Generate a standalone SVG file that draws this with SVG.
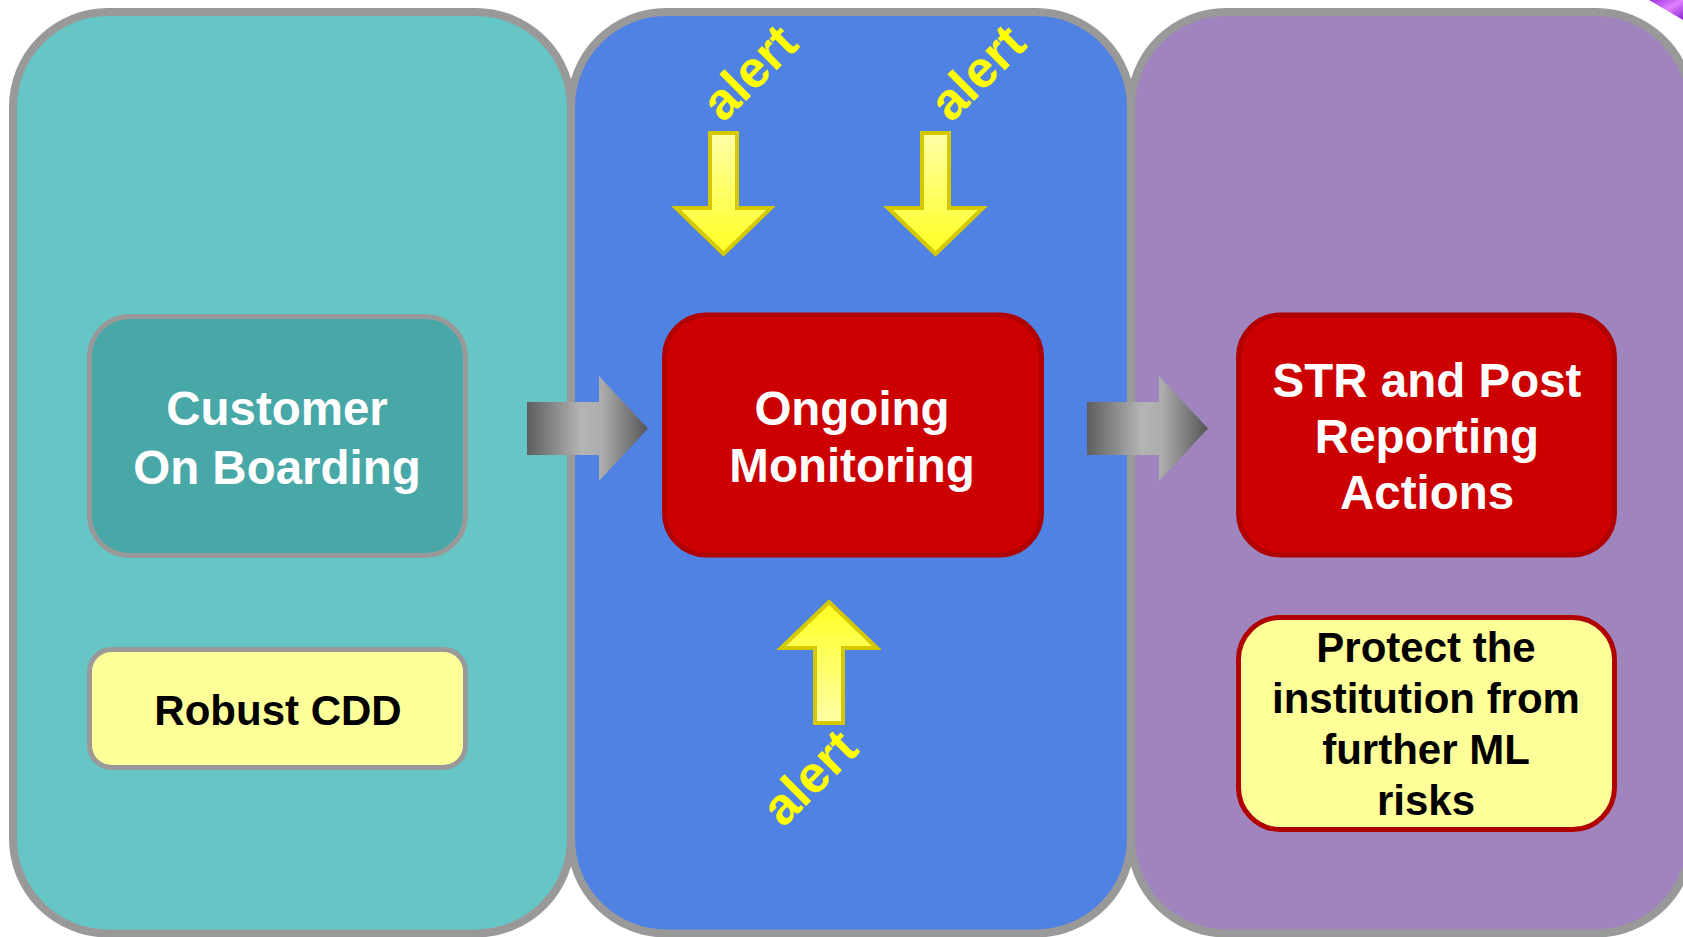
<svg xmlns="http://www.w3.org/2000/svg" width="1683" height="937" viewBox="0 0 1683 937">
  <defs>
    <linearGradient id="grayArrow" x1="0" y1="0" x2="1" y2="0">
      <stop offset="0" stop-color="#5e5e5e"/>
      <stop offset="0.45" stop-color="#b4b4b4"/>
      <stop offset="0.62" stop-color="#acacac"/>
      <stop offset="1" stop-color="#555555"/>
    </linearGradient>
    <linearGradient id="yellowDown" x1="0" y1="0" x2="0" y2="1">
      <stop offset="0" stop-color="#ffffa6"/>
      <stop offset="1" stop-color="#ffff22"/>
    </linearGradient>
    <linearGradient id="yellowUp" x1="0" y1="1" x2="0" y2="0">
      <stop offset="0" stop-color="#ffffa6"/>
      <stop offset="1" stop-color="#ffff22"/>
    </linearGradient>
    <linearGradient id="glint" x1="0" y1="0" x2="1" y2="1">
      <stop offset="0" stop-color="#9b30e0"/>
      <stop offset="0.5" stop-color="#e080ff"/>
      <stop offset="1" stop-color="#8a20d0"/>
    </linearGradient>
  </defs>
  <style>
    .panel { stroke: #999999; stroke-width: 8; }
    .grayBox { stroke: #999999; stroke-width: 5; }
    .redBox { stroke: #b00000; stroke-width: 5; }
    .t { font-family: "Liberation Sans", Arial, sans-serif; font-weight: bold; text-anchor: middle; }
    .white { fill: #ffffff; font-size: 47.5px; }
    .black { fill: #000000; font-size: 42px; }
    .alert { fill: #ffff00; font-size: 52px; }
    .yarrow { stroke: #d4c800; stroke-width: 4; stroke-linejoin: miter; }
  </style>

  <rect width="1683" height="937" fill="#ffffff"/>
  <path d="M1649,0 H1683 V20 Z" fill="url(#glint)"/>

  <g id="panel-onboarding">
    <rect class="panel" x="13" y="12" width="558" height="921.5" rx="95" ry="95" fill="#66c6c6"/>
  </g>
  <g id="panel-monitoring">
    <rect class="panel" x="571" y="12" width="560" height="921.5" rx="95" ry="95" fill="#5082e4"/>
  </g>
  <g id="panel-reporting">
    <rect class="panel" x="1131" y="12" width="560" height="921.5" rx="95" ry="95" fill="#a084bd"/>
  </g>

  <g id="customer-onboarding">
    <rect class="grayBox" x="89.5" y="316.5" width="376" height="239" rx="40" ry="40" fill="#48a8a8"/>
    <text class="t white" x="277" y="425">Customer</text>
    <text class="t white" x="277" y="484">On Boarding</text>
  </g>

  <g id="robust-cdd">
    <rect class="grayBox" x="89.5" y="649.5" width="376" height="118" rx="22" ry="22" fill="#ffff99"/>
    <text class="t black" x="278" y="725">Robust CDD</text>
  </g>

  <g id="ongoing-monitoring">
    <rect class="redBox" x="664.5" y="315" width="377" height="240" rx="42" ry="42" fill="#cc0000"/>
    <text class="t white" x="852" y="425">Ongoing</text>
    <text class="t white" x="852" y="482">Monitoring</text>
  </g>

  <g id="str-reporting">
    <rect class="redBox" x="1238.5" y="315" width="376" height="240" rx="42" ry="42" fill="#cc0000"/>
    <text class="t white" x="1427" y="397">STR and Post</text>
    <text class="t white" x="1427" y="453">Reporting</text>
    <text class="t white" x="1427" y="509">Actions</text>
  </g>

  <g id="protect-institution">
    <rect class="redBox" x="1238.5" y="617.5" width="376" height="212" rx="42" ry="42" fill="#ffff99"/>
    <text class="t black" x="1426" y="662">Protect the</text>
    <text class="t black" x="1426" y="713">institution from</text>
    <text class="t black" x="1426" y="764">further ML</text>
    <text class="t black" x="1426" y="815">risks</text>
  </g>

  <g id="connectors">
    <path d="M527,402 H599 V376 L648,428.5 L599,481 V455 H527 Z" fill="url(#grayArrow)"/>
    <path d="M1087,402 H1159 V376 L1208,428.5 L1159,481 V455 H1087 Z" fill="url(#grayArrow)"/>

    <path class="yarrow" d="M710,133 H737 V208 H771 L723.5,254 L676,208 H710 Z" fill="url(#yellowDown)"/>
    <path class="yarrow" d="M922,133 H949 V208 H983 L935.5,254 L888,208 H922 Z" fill="url(#yellowDown)"/>
    <path class="yarrow" d="M829,602 L877,648 H843 V723 H815 V648 H781 Z" fill="url(#yellowUp)"/>
  </g>

  <g id="alert-labels">
    <text class="t alert" transform="translate(762,85) rotate(-45)">alert</text>
    <text class="t alert" transform="translate(990,85) rotate(-45)">alert</text>
    <text class="t alert" transform="translate(822,790) rotate(-45)">alert</text>
  </g>
</svg>
